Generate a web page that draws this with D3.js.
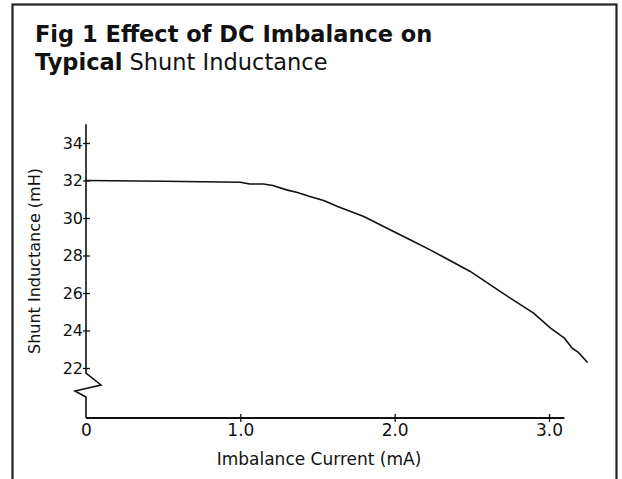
<!DOCTYPE html>
<html>
<head>
<meta charset="utf-8">
<script src="https://cdn.jsdelivr.net/npm/d3@7"></script>
<style>
  html, body { margin: 0; padding: 0; background: #fff; }
  svg { display: block; }
  text { font-family: "DejaVu Sans", sans-serif; fill: #111; }
</style>
</head>
<body>
<svg id="chart" width="622" height="479"></svg>
<script>
// ---- data ----
const titleLines = ["Fig 1  Effect of DC Imbalance on", "Typical Shunt Inductance"];
const xLabel = "Imbalance Current (mA)";
const yLabel = "Shunt Inductance (mH)";
const xTicks = [0, 1, 2, 3];
const xTickLabels = ["0", "1.0", "2.0", "3.0"];
const yTicks = [22, 24, 26, 28, 30, 32, 34];
const currentMA = [0, 0.5, 1.0, 1.06, 1.15, 1.21, 1.30, 1.37, 1.45, 1.54, 1.63, 1.80, 1.97, 2.10, 2.23, 2.31, 2.49, 2.70, 2.90, 3.01, 3.10, 3.15, 3.19, 3.25];
const inductanceMH = [32.0, 31.96, 31.91, 31.81, 31.81, 31.73, 31.50, 31.36, 31.15, 30.93, 30.61, 30.08, 29.37, 28.84, 28.30, 27.95, 27.15, 25.99, 24.93, 24.13, 23.59, 23.06, 22.83, 22.29];

// ---- layout ----
const svg = d3.select("#chart");
const x = d3.scaleLinear().domain([0, 3]).range([86, 549]);
const y = d3.scaleLinear().domain([22, 34]).range([368, 143]);
const xAxisY = 418;
const xAxisEnd = 3.1;
const yAxisTop = 35.0;

// frame
svg.append("rect")
  .attr("x", 12.5).attr("y", 4.5).attr("width", 604).attr("height", 520)
  .attr("fill", "none").attr("stroke", "#222").attr("stroke-width", 2.2);

// title
const t = svg.append("text").attr("x", 35).attr("font-size", 22.5);
t.append("tspan").attr("x", 35).attr("y", 42).attr("font-weight", "bold").text(titleLines[0]);
const l2 = t.append("tspan").attr("x", 35).attr("y", 70);
l2.append("tspan").attr("font-weight", "bold").text(titleLines[1].split(" ")[0]);
l2.append("tspan").text(" " + titleLines[1].split(" ").slice(1).join(" "));

// y axis
const gy = svg.append("g").attr("transform", `translate(${x(0)},0)`)
  .call(d3.axisLeft(y).tickValues(yTicks).tickSize(3).tickPadding(4).tickFormat(d3.format("d")));
gy.select(".domain").remove();
gy.selectAll(".tick line").attr("x1", -3).attr("x2", 4).attr("stroke", "#111").attr("stroke-width", 1.3);
gy.selectAll(".tick text").attr("font-size", 16).attr("font-family", "DejaVu Sans, sans-serif").attr("fill", "#111").attr("x", -3);

// y axis line with break
const x0 = x(0);
const yBreakTop = y(22) + 5;
const brk = `M${x0},${y(yAxisTop)} L${x0},${yBreakTop} L${x0 + 15},${yBreakTop + 12} L${x0 - 11},${yBreakTop + 18} L${x0},${yBreakTop + 24} L${x0},${xAxisY}`;
svg.append("path").attr("d", brk).attr("fill", "none").attr("stroke", "#111").attr("stroke-width", 1.6);

// x axis
const gx = svg.append("g").attr("transform", `translate(0,${xAxisY})`)
  .call(d3.axisBottom(x).tickValues(xTicks).tickSize(3).tickPadding(3).tickFormat((d, i) => xTickLabels[i]));
gx.select(".domain").remove();
gx.selectAll(".tick line").attr("y1", -4).attr("y2", 4).attr("stroke", "#111").attr("stroke-width", 1.3);
gx.selectAll(".tick line").filter(d => d === 0).remove();
gx.selectAll(".tick text").attr("font-size", 17).attr("font-family", "DejaVu Sans, sans-serif").attr("fill", "#111");
svg.append("line")
  .attr("x1", x(0)).attr("x2", x(xAxisEnd)).attr("y1", xAxisY).attr("y2", xAxisY)
  .attr("stroke", "#111").attr("stroke-width", 1.8);

// axis titles
svg.append("text").attr("x", 319).attr("y", 465).attr("text-anchor", "middle")
  .attr("font-size", 17).text(xLabel);
svg.append("text").attr("transform", `translate(40,261) rotate(-90)`).attr("text-anchor", "middle")
  .attr("font-size", 16).text(yLabel);

// curve
const pts = currentMA.map((c, i) => [c, inductanceMH[i]]);
svg.append("path").datum(pts)
  .attr("d", d3.line().x(d => x(d[0])).y(d => y(d[1])))
  .attr("fill", "none").attr("stroke", "#111").attr("stroke-width", 1.6);
</script>
</body>
</html>
